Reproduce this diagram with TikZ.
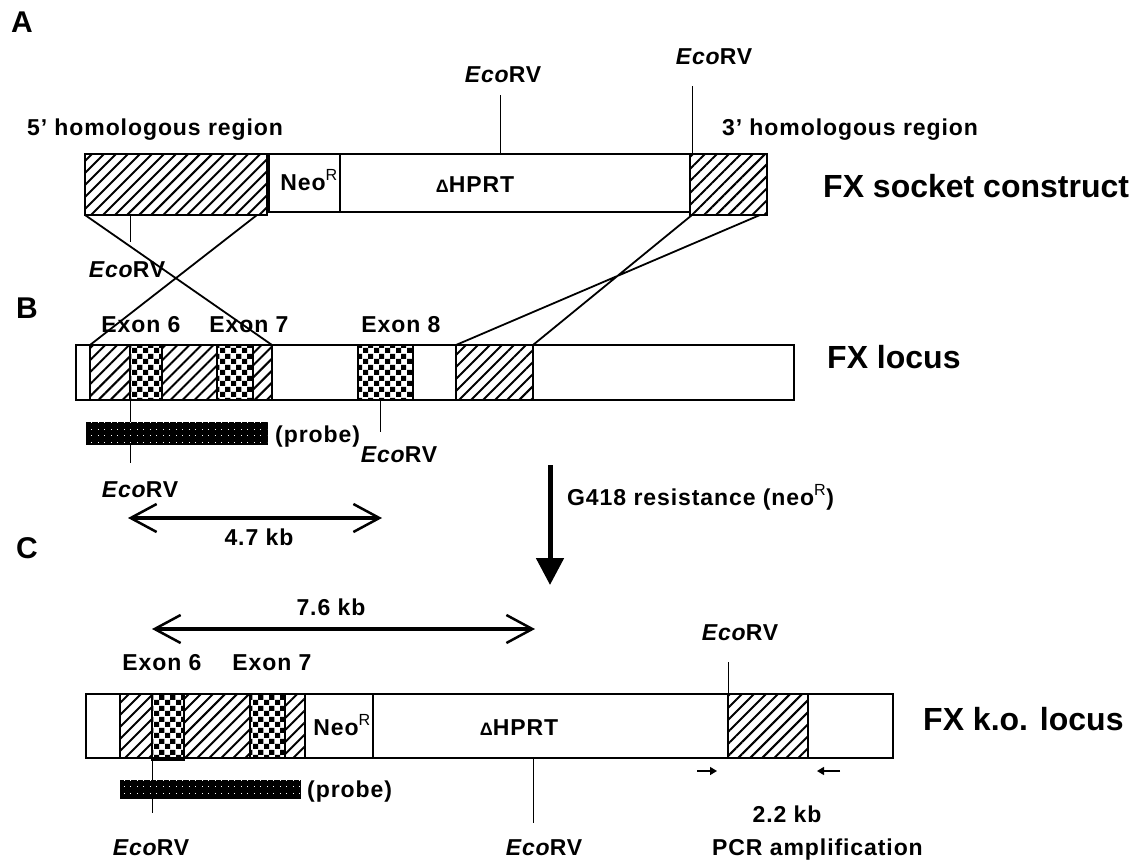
\documentclass[tikz,border=0pt]{standalone}
\usepackage{fontspec}
\setmainfont{Liberation Sans}
\newfontfamily\spacedfamily{Liberation Sans}[LetterSpace=4]
\usetikzlibrary{patterns,patterns.meta,arrows.meta}

\pgfdeclarepatternformonly{chequer}{\pgfpointorigin}{\pgfqpoint{11pt}{11pt}}{\pgfqpoint{11pt}{11pt}}{%
  \pgfpathrectangle{\pgfpointorigin}{\pgfqpoint{5.5pt}{5.5pt}}%
  \pgfpathrectangle{\pgfqpoint{5.5pt}{5.5pt}}{\pgfqpoint{5.5pt}{5.5pt}}%
  \pgfusepath{fill}}
\pgfdeclarepatternformonly{speckle}{\pgfpointorigin}{\pgfqpoint{2pt}{2pt}}{\pgfqpoint{6.5pt}{6.5pt}}{%
  \pgfpathrectangle{\pgfpointorigin}{\pgfqpoint{1.3pt}{1.3pt}}%
  \pgfusepath{fill}}

\newcommand{\lblfnt}{\spacedfamily\bfseries\fontsize{23}{27}\selectfont}
\newcommand{\ttlfnt}{\bfseries\fontsize{32}{36}\selectfont}
\newcommand{\pnlfnt}{\bfseries\fontsize{30}{34}\selectfont}
\newcommand{\ecorv}{{\itshape Eco}RV}
\newcommand{\neor}{Neo\textsuperscript{\mdseries R}}
\newcommand{\dhprt}{{\fontsize{18}{18}\selectfont Δ}HPRT}

\begin{document}
\begin{tikzpicture}[x=1pt, y=-1pt,
  txt/.style={font=\lblfnt, inner sep=0pt, anchor=base},
  title/.style={font=\ttlfnt, inner sep=0pt, anchor=base west},
  panel/.style={font=\pnlfnt, inner sep=0pt, anchor=base},
  plain/.style={draw, line width=1.1pt, fill=white},
  hatch/.style={draw, line width=1.1pt, pattern={Lines[angle=45,distance=8.5pt,line width=2pt]}},
  chk/.style={draw, line width=1.1pt, pattern=chequer},
  probe/.style={fill=black, postaction={pattern=speckle, pattern color=white}},
  site/.style={line width=0.9pt},
  cross/.style={line width=1.8pt},
  span/.style={line width=3.5pt, {Straight Barb[length=26pt,width=28pt,line width=2.5pt]}-{Straight Barb[length=26pt,width=28pt,line width=2.5pt]}},
  primer/.style={line width=1.4pt, -{Triangle[length=7pt,width=8pt]}}]

% page
\fill[white] (0,0) rectangle (1145,859);
\useasboundingbox (0,0) rectangle (1145,859);

% panel letters
\node[panel] (pA) at (22,33) {A};
\node[panel] (pB) at (27,318) {B};
\node[panel] (pC) at (27,558) {C};

% A: socket construct
\draw[plain] (269,154) rectangle (690,212);
\draw[plain] (340,154) -- (340,212);
\draw[hatch] (85,154) rectangle (267,215);
\draw[hatch] (690,154) rectangle (767,215);
\node[txt] (neoA) at (309,190) {\neor};
\node[txt] (hprtA) at (475,192) {\dhprt};
\node[txt] (hom5) at (155,135) {5’ homologous region};
\node[txt] (hom3) at (850,135) {3’ homologous region};
\node[title] (fxA) at (823,197) {FX socket construct};
\node[txt] (ecoA1) at (503,82) {\ecorv};
\node[txt] (ecoA2) at (714,65) {\ecorv};
\node[txt] (ecoA3) at (127,277) {\ecorv};
\coordinate (sA1) at (500,154); \coordinate (sA1e) at (500,95);
\coordinate (sA2) at (692,154); \coordinate (sA2e) at (692,86);
\coordinate (sA3) at (130,215); \coordinate (sA3e) at (130,242);
\draw[site] (sA1) -- (sA1e) (sA2) -- (sA2e) (sA3) -- (sA3e);

% crossing-over lines
\coordinate (xA1) at (85,215);  \coordinate (xA2) at (257,215);
\coordinate (xA3) at (692,215); \coordinate (xA4) at (760,215);
\coordinate (xB1) at (90,345);  \coordinate (xB2) at (272,345);
\coordinate (xB3) at (456,345); \coordinate (xB4) at (533,345);
\draw[cross] (xA1) -- (xB2) (xA2) -- (xB1) (xA3) -- (xB4) (xA4) -- (xB3);

% B: wild type locus
\draw[plain] (76,345) rectangle (794,400);
\foreach \a/\b/\s in {90/130/hatch,130/162/chk,162/217/hatch,217/253/chk,253/272/hatch,358/413/chk,456/533/hatch}
  \draw[\s] (\a,345) rectangle (\b,400);
\node[txt] (ex6B) at (141,332) {Exon 6};
\node[txt] (ex7B) at (249,332) {Exon 7};
\node[txt] (ex8B) at (401,332) {Exon 8};
\node[title] (fxB) at (827,368) {FX locus};
\coordinate (sB1) at (130,400); \coordinate (sB1e) at (130,463);
\coordinate (sB2) at (380,400); \coordinate (sB2e) at (380,432);
\draw[site] (sB1) -- (sB1e) (sB2) -- (sB2e);
\draw[probe] (86,422) rectangle (267,444);
\node[txt, anchor=base west] (prB) at (275,442) {(probe)};
\node[txt] (ecoB1) at (140,497) {\ecorv};
\node[txt] (ecoB2) at (399,462) {\ecorv};

% fragment sizes and selection
\coordinate (d47a) at (128,518); \coordinate (d47b) at (382,518);
\draw[span] (d47a) -- (d47b);
\node[txt] (kb47) at (259,545) {4.7 kb};
\coordinate (gTop) at (550,465); \coordinate (gTip) at (550,585);
\draw[line width=5pt, -{Triangle[length=27pt,width=27pt]}] (gTop) -- (gTip);
\node[txt, anchor=base west] (g418) at (567,505) {G418 resistance (neo\textsuperscript{\mdseries R})};
\coordinate (d76a) at (152,629); \coordinate (d76b) at (535,629);
\draw[span] (d76a) -- (d76b);
\node[txt] (kb76) at (331,615) {7.6 kb};

% C: knock-out locus
\draw[plain] (86,694) rectangle (893,758);
\draw[plain] (373,694) -- (373,758);
\foreach \a/\b/\s in {120/152/hatch,184/250/hatch,250/285/chk,285/305/hatch,728/808/hatch}
  \draw[\s] (\a,694) rectangle (\b,758);
\draw[chk] (152,694) rectangle (184,760);
\node[txt] (ex6C) at (162,670) {Exon 6};
\node[txt] (ex7C) at (272,670) {Exon 7};
\node[txt] (neoC) at (342,735) {\neor};
\node[txt] (hprtC) at (519,735) {\dhprt};
\node[title] (fxC) at (923,730) {FX k.o. locus};
\coordinate (sC1) at (728,694); \coordinate (sC1e) at (728,662);
\coordinate (sC2) at (533,758); \coordinate (sC2e) at (533,823);
\coordinate (sC3) at (152,758); \coordinate (sC3e) at (152,813);
\draw[site] (sC1) -- (sC1e) (sC2) -- (sC2e) (sC3) -- (sC3e);
\draw[probe] (120,780) rectangle (300,798);
\node[txt, anchor=base west] (prC) at (307,797) {(probe)};
\node[txt] (ecoC1) at (740,640) {\ecorv};
\node[txt] (ecoC2) at (544,855) {\ecorv};
\node[txt] (ecoC3) at (151,855) {\ecorv};

% PCR primers
\coordinate (pF) at (697,771); \coordinate (pFe) at (717,771);
\coordinate (pR) at (840,771); \coordinate (pRe) at (817,771);
\draw[primer] (pF) -- (pFe);
\draw[primer] (pR) -- (pRe);
\node[txt] (kb22) at (787,822) {2.2 kb};
\node[txt, anchor=base west] (pcr) at (712,855) {PCR amplification};
\end{tikzpicture}
\end{document}
